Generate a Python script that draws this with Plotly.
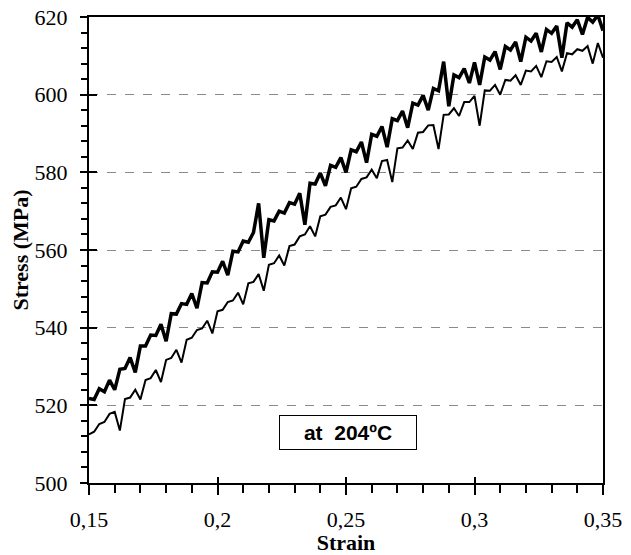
import numpy as np
import plotly.graph_objects as go

# strain sampling grid (0.002 steps from 0.15 to 0.35)
strain = np.round(np.linspace(0.15, 0.35, 101), 3)

# upper serrated curve (MPa)
stress_upper = [
    521.8, 521.5, 524.3, 523.5, 526.5, 524.0, 529.3, 529.5, 532.3, 528.5,
    535.3, 535.3, 538.1, 538.0, 540.9, 536.5, 543.6, 543.5, 546.2, 546.0,
    548.8, 545.0, 551.6, 551.5, 554.4, 554.3, 557.1, 553.5, 559.7, 559.5,
    562.3, 562.0, 564.5, 572.0, 558.0, 567.8, 567.5, 570.0, 569.5, 572.2,
    571.8, 574.6, 566.5, 577.2, 577.0, 579.8, 576.5, 581.8, 581.3, 583.8,
    580.0, 585.8, 585.3, 587.8, 582.5, 589.8, 589.3, 591.8, 586.5, 593.8,
    593.3, 595.8, 591.5, 597.8, 597.3, 599.8, 596.0, 601.6, 601.0, 608.5,
    597.0, 605.1, 604.4, 606.7, 603.0, 608.3, 602.5, 609.7, 608.9, 611.1,
    606.5, 612.4, 611.5, 613.6, 608.5, 614.8, 613.8, 615.8, 611.0, 616.8,
    615.8, 617.7, 609.5, 618.5, 617.4, 619.3, 615.5, 619.9, 618.7, 620.5,
    616.5,
]

# lower serrated curve (MPa)
stress_lower = [
    512.5, 513.2, 515.2, 515.7, 517.8, 518.3, 513.5, 521.6, 522.0, 524.0,
    521.5, 526.5, 527.0, 529.1, 526.0, 531.7, 532.2, 534.3, 531.0, 536.9,
    537.4, 539.4, 539.8, 541.8, 538.5, 544.2, 544.6, 546.6, 547.0, 549.0,
    546.0, 551.4, 551.8, 553.8, 549.5, 556.2, 556.6, 558.6, 556.0, 561.0,
    561.4, 563.5, 564.0, 566.1, 563.5, 568.7, 569.1, 571.1, 571.5, 573.5,
    570.5, 575.9, 576.3, 578.3, 578.7, 580.7, 578.5, 582.9, 583.2, 577.5,
    586.2, 586.4, 588.2, 586.0, 590.2, 590.4, 592.1, 592.2, 586.0, 594.8,
    594.9, 596.5, 594.5, 598.1, 598.1, 599.7, 592.0, 601.1, 601.0, 602.5,
    600.0, 603.8, 603.6, 605.0, 602.5, 606.2, 606.0, 607.4, 604.5, 608.6,
    608.4, 609.7, 606.0, 610.7, 610.4, 611.7, 611.3, 612.5, 608.0, 613.3,
    609.5,
]

serif = "Liberation Serif"

fig = go.Figure()
fig.add_trace(go.Scatter(x=strain, y=stress_upper, mode='lines',
                         line=dict(color='black', width=3.5), showlegend=False))
fig.add_trace(go.Scatter(x=strain, y=stress_lower, mode='lines',
                         line=dict(color='black', width=2), showlegend=False,
                         xaxis='x2', yaxis='y2'))

fig.add_annotation(x=0.2508, y=513, xref='x', yref='y',
                   text='<b>at  204ºC</b>', showarrow=False,
                   font=dict(family='Liberation Sans', size=21, color='black'),
                   bordercolor='black', borderwidth=1, bgcolor='white',
                   width=134, height=31)

fig.update_layout(
    width=631, height=555,
    margin=dict(l=89, r=28, t=17, b=72),
    plot_bgcolor='white', paper_bgcolor='white',
    separators=',.',
    font=dict(family=serif, size=22, color='black'),
    xaxis=dict(range=[0.15, 0.35], tickvals=[0.15, 0.2, 0.25, 0.3, 0.35],
               ticks='outside', ticklen=10, tickwidth=2, tickcolor='black',
               minor=dict(dtick=0.01, tick0=0.15, ticks='outside', ticklen=8,
                          tickwidth=2, tickcolor='black'),
               showline=True, linecolor='black', linewidth=2, mirror=True,
               showgrid=False, zeroline=False, ticklabelstandoff=6,
               ticklabeloverflow='allow', automargin=False,
               title=dict(text='<b>Strain</b>', standoff=0,
                          font=dict(family=serif, size=22))),
    yaxis=dict(range=[500, 620], dtick=20,
               ticks='outside', ticklen=7, tickwidth=2, tickcolor='black',
               minor=dict(dtick=4, ticks='outside', ticklen=6,
                          tickwidth=2, tickcolor='black'),
               showline=True, linecolor='black', linewidth=2, mirror=True,
               showgrid=True, gridcolor='#8a8a8a', gridwidth=1, griddash='dash',
               zeroline=False, ticklabelstandoff=8, ticklabeloverflow='allow',
               automargin=False,
               title=dict(text='<b>Stress (MPa)</b>', standoff=0,
                          font=dict(family=serif, size=22))),
    xaxis2=dict(range=[0.15, 0.35], overlaying='x', side='bottom',
                tickvals=[0.15, 0.2, 0.25, 0.3, 0.35], ticks='inside', ticklen=6,
                tickwidth=2, tickcolor='black', showticklabels=False,
                showgrid=False, showline=False, zeroline=False),
    yaxis2=dict(range=[500, 620], overlaying='y', side='left', dtick=20,
                ticks='inside', ticklen=8, tickwidth=2, tickcolor='black',
                showticklabels=False, showgrid=False, showline=False,
                zeroline=False),
)

# drop the default 8px page margin so the figure fills the window; no modebar
fig.write_html("out.html", config={'displayModeBar': False},
               post_script="document.body.style.margin = '0';")
